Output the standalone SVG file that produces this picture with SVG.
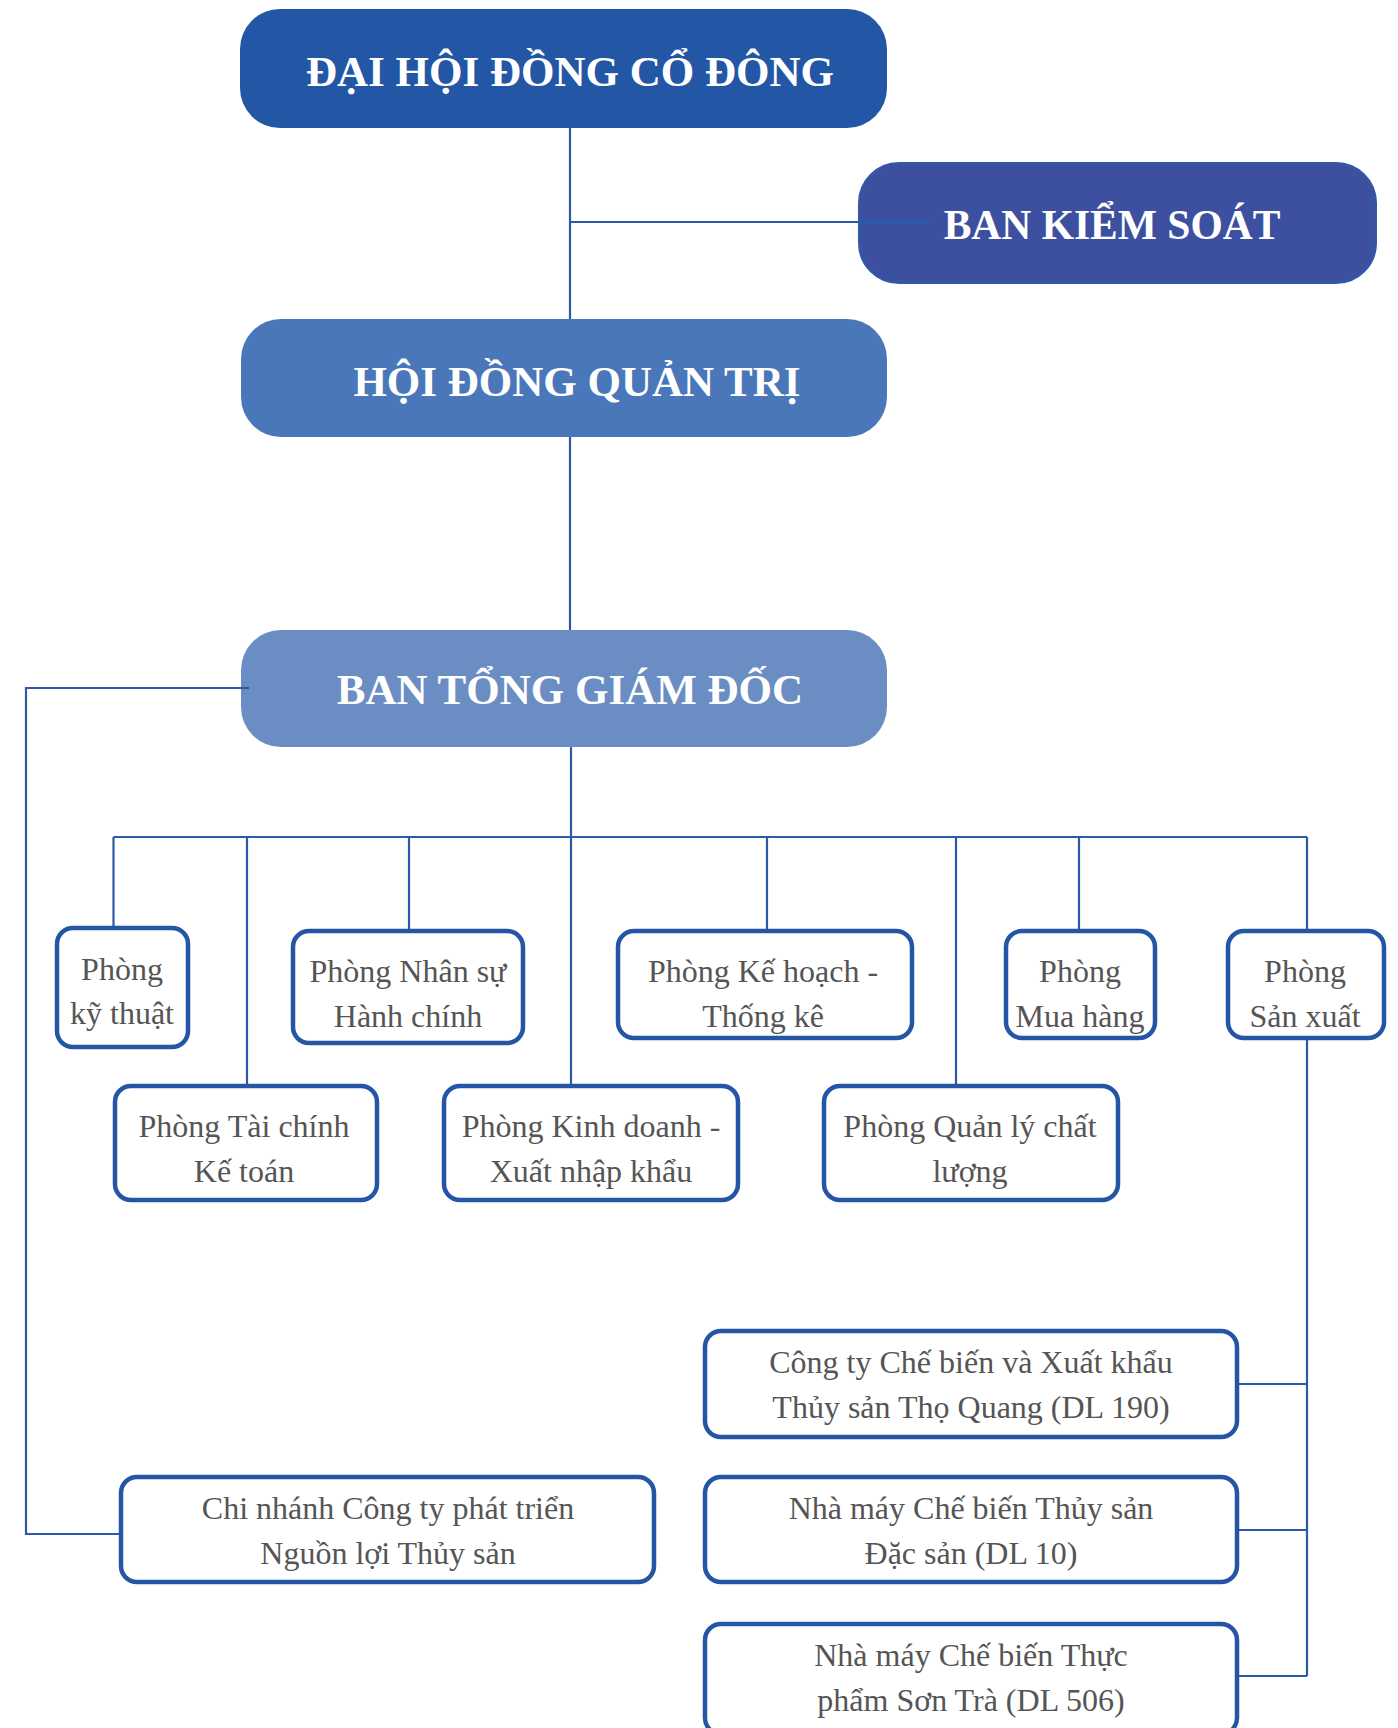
<svg xmlns="http://www.w3.org/2000/svg" width="1398" height="1728" viewBox="0 0 1398 1728">
<style>
.hd{font-family:"Liberation Serif","DejaVu Serif",serif;font-weight:bold;font-size:43px;fill:#ffffff;text-anchor:middle}
.bx{fill:#ffffff;stroke:#2456a5;stroke-width:4.5}
.tx{font-family:"Liberation Serif","DejaVu Serif",serif;font-size:32px;fill:#555555;text-anchor:middle}
.ln{fill:none;stroke:#2c5aa6;stroke-width:2.2}
</style>
<rect width="1398" height="1728" fill="#ffffff"/>
<g id="connectors" class="ln">
<path d="M570 128V319"/>
<path d="M570 222H931"/>
<path d="M570 437V630"/>
<path d="M571 747V1086"/>
<path d="M249 688H26V1534H121"/>
<path d="M113.5 837H1307"/>
<path d="M113.5 837V928"/>
<path d="M247 837V1086"/>
<path d="M409 837V931"/>
<path d="M767 837V931"/>
<path d="M956 837V1086"/>
<path d="M1079 837V931"/>
<path d="M1307 837V931"/>
<path d="M1307 1038V1676"/>
<path d="M1237 1384H1307"/>
<path d="M1237 1530H1307"/>
<path d="M1237 1676H1307"/>
</g>
<g id="dhdcd">
<rect x="240" y="9" width="647" height="119" rx="40" fill="#2356a5"/>
<text class="hd" x="570" y="86">ĐẠI HỘI ĐỒNG CỔ ĐÔNG</text>
</g>
<g id="bks">
<rect x="859" y="163" width="517" height="120" rx="40" fill="#3d50a0" stroke="#2f5aa8" stroke-width="2"/>
<path d="M859 222H931" fill="none" stroke="#2460ae" stroke-width="2.4"/>
<text class="hd" x="1112" y="239" style="font-size:41.5px">BAN KIỂM SOÁT</text>
</g>
<g id="hdqt">
<rect x="241" y="319" width="646" height="118" rx="40" fill="#4a77b9"/>
<text class="hd" x="577" y="396">HỘI ĐỒNG QUẢN TRỊ</text>
</g>
<g id="btgd">
<rect x="241" y="630" width="646" height="117" rx="40" fill="#6a8dc3"/>
<path class="ln" d="M241 688H249"/>
<text class="hd" x="570" y="704">BAN TỔNG GIÁM ĐỐC</text>
</g>
<g id="p-kythuat">
<rect class="bx" x="57" y="928" width="131" height="119" rx="16"/>
<text class="tx" x="122" y="980">Phòng</text>
<text class="tx" x="122" y="1024">kỹ thuật</text>
</g>
<g id="p-nhansu">
<rect class="bx" x="293" y="931" width="230" height="112" rx="16"/>
<text class="tx" x="408" y="982">Phòng Nhân sự</text>
<text class="tx" x="408" y="1027">Hành chính</text>
</g>
<g id="p-kehoach">
<rect class="bx" x="618" y="931" width="294" height="107" rx="16"/>
<text class="tx" x="763" y="982">Phòng Kế hoạch -</text>
<text class="tx" x="763" y="1027">Thống kê</text>
</g>
<g id="p-muahang">
<rect class="bx" x="1006" y="931" width="149" height="107" rx="16"/>
<text class="tx" x="1080" y="982">Phòng</text>
<text class="tx" x="1080" y="1027">Mua hàng</text>
</g>
<g id="p-sanxuat">
<rect class="bx" x="1228" y="931" width="156" height="107" rx="16"/>
<text class="tx" x="1305" y="982">Phòng</text>
<text class="tx" x="1305" y="1027">Sản xuất</text>
</g>
<g id="p-taichinh">
<rect class="bx" x="115" y="1086" width="262" height="114" rx="16"/>
<text class="tx" x="244" y="1137">Phòng Tài chính</text>
<text class="tx" x="244" y="1182">Kế toán</text>
</g>
<g id="p-kinhdoanh">
<rect class="bx" x="444" y="1086" width="294" height="114" rx="16"/>
<text class="tx" x="591" y="1137">Phòng Kinh doanh -</text>
<text class="tx" x="591" y="1182">Xuất nhập khẩu</text>
</g>
<g id="p-chatluong">
<rect class="bx" x="824" y="1086" width="294" height="114" rx="16"/>
<text class="tx" x="970" y="1137">Phòng Quản lý chất</text>
<text class="tx" x="970" y="1182">lượng</text>
</g>
<g id="cty-thoquang">
<rect class="bx" x="705" y="1331" width="532" height="106" rx="16"/>
<text class="tx" x="971" y="1373">Công ty Chế biến và Xuất khẩu</text>
<text class="tx" x="971" y="1418">Thủy sản Thọ Quang (DL 190)</text>
</g>
<g id="nm-dl10">
<rect class="bx" x="705" y="1477" width="532" height="105" rx="16"/>
<text class="tx" x="971" y="1519">Nhà máy Chế biến Thủy sản</text>
<text class="tx" x="971" y="1564">Đặc sản (DL 10)</text>
</g>
<g id="nm-dl506">
<rect class="bx" x="705" y="1624" width="532" height="110" rx="16"/>
<text class="tx" x="971" y="1666">Nhà máy Chế biến Thực</text>
<text class="tx" x="971" y="1711">phẩm Sơn Trà (DL 506)</text>
</g>
<g id="chinhanh">
<rect class="bx" x="121" y="1477" width="533" height="105" rx="16"/>
<text class="tx" x="388" y="1519">Chi nhánh Công ty phát triển</text>
<text class="tx" x="388" y="1564">Nguồn lợi Thủy sản</text>
</g>
</svg>
